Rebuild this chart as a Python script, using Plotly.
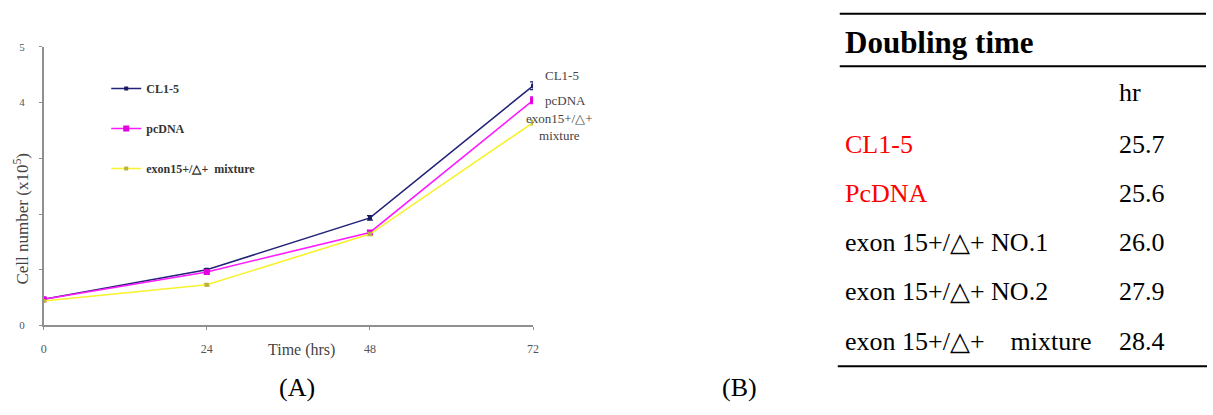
import plotly.graph_objects as go

# ---------------- data ----------------
hours = [0, 24, 48, 72]
series_names = ["CL1-5", "pcDNA", "exon15+/\u25b3+  mixture"]
cl15 = [0.47, 1.00, 1.93, 4.30]
cl15_err = [0.02, 0.02, 0.04, 0.07]
pcdna = [0.47, 0.96, 1.67, 4.04]
pcdna_err = [0.02, 0.03, 0.03, 0.06]
mixture = [0.44, 0.73, 1.64, 3.64]
mixture_err = [0.01, 0.02, 0.03, 0.04]
end_labels = ["CL1-5", "pcDNA", "exon15+/\u25b3+<br>mixture"]

y_tick_vals = [0, 1, 2, 3, 4, 5]
y_tick_text = ["0", " ", " ", " ", "4", "5"]
x_tick_vals = [0, 24, 48, 72]

table_title = "Doubling time"
table_unit = "hr"
table_labels = ["CL1-5", "PcDNA", "exon 15+/\u25b3+ NO.1", "exon 15+/\u25b3+ NO.2",
                "exon 15+/\u25b3+\u00a0\u00a0\u00a0\u00a0mixture"]
table_values = ["25.7", "25.6", "26.0", "27.9", "28.4"]
table_label_colors = ["#ff0000", "#ff0000", "#000000", "#000000", "#000000"]

W, H = 1213, 415
def px(x):
    return x / W
def py(y):
    return 1 - y / H

colors = ["#23237a", "#ff1aff", "#f7f22e"]
marker_colors = ["#1a1a60", "#e000e0", "#b8b040"]
marker_sizes = [4, 6, 4]
values = [cl15, pcdna, mixture]
errors = [cl15_err, pcdna_err, mixture_err]

fig = go.Figure()
for i in range(3):
    fig.add_trace(go.Scatter(
        x=hours, y=values[i], name=series_names[i], mode="lines+markers",
        legendgroup=f"g{i}",
        line=dict(color=colors[i], width=1.6),
        marker=dict(symbol="square", size=marker_sizes[i], color=marker_colors[i]),
        error_y=dict(type="data", array=errors[i], color=marker_colors[i],
                     thickness=1.2, width=3),
    ))

serif = "Liberation Serif, Times New Roman, serif"

def note(x, y, text, size, color="#000000", xanchor="center", **kw):
    return dict(x=px(x), y=py(y), xref="paper", yref="paper", text=text,
                showarrow=False, xanchor=xanchor, yanchor="middle",
                font=dict(family=serif, size=size, color=color), **kw)

annotations = []
# end labels
shifts = [(29, 10), (32, 0), (26, -4)]
for i in range(3):
    annotations.append(dict(
        x=hours[-1], y=values[i][-1], xref="x", yref="y", text=end_labels[i],
        showarrow=False, xanchor="center", yanchor="middle",
        xshift=shifts[i][0], yshift=shifts[i][1],
        font=dict(family=serif, size=13, color="#444444")))

# axis titles
annotations.append(note(18, 219, "Cell number (x10<sup>5</sup>)", 17, "#444444", textangle=-90))
annotations.append(note(301, 354, "Time (hrs)", 16, "#444444"))
# panel labels
annotations.append(note(296, 393, "(A)", 26))
annotations.append(note(742, 393, "(B)", 26))

# table
annotations.append(note(846, 38, f"<b>{table_title}</b>", 31, xanchor="left"))
annotations.append(note(1122, 89, table_unit, 26, xanchor="left"))
row_y = [143, 193, 244, 294, 345]
for lab, val, col, ry in zip(table_labels, table_values, table_label_colors, row_y):
    annotations.append(note(846, ry, lab, 26, col, xanchor="left"))
    annotations.append(note(1122, ry, val, 26, xanchor="left"))

shapes = [
    dict(type="line", xref="paper", yref="paper", x0=px(843), x1=px(1212), y0=py(8), y1=py(8),
         line=dict(color="#000000", width=2)),
    dict(type="line", xref="paper", yref="paper", x0=px(843), x1=px(1212), y0=py(62), y1=py(62),
         line=dict(color="#000000", width=2)),
    dict(type="line", xref="paper", yref="paper", x0=px(841), x1=px(1213), y0=py(371), y1=py(371),
         line=dict(color="#000000", width=2)),
]

fig.update_layout(
    width=W, height=H,
    margin=dict(l=0, r=0, t=0, b=0),
    paper_bgcolor="white", plot_bgcolor="white",
    showlegend=True,
    legend=dict(x=px(104), y=py(70), xanchor="left", yanchor="top",
                bgcolor="rgba(0,0,0,0)", tracegroupgap=21, itemwidth=30,
                traceorder="grouped",
                font=dict(family=serif, size=12, color="#333333", weight="bold")),
    xaxis=dict(domain=[px(41), px(534)], range=[0, 72], tickvals=x_tick_vals,
               showgrid=False, zeroline=False, showline=True, linecolor="#909090", linewidth=1.5,
               ticks="outside", ticklen=3, tickcolor="#909090", ticklabelstandoff=8,
               tickfont=dict(family=serif, size=12, color="#555555")),
    yaxis=dict(domain=[py(329), py(42)], range=[0, 5], tickvals=y_tick_vals, ticktext=y_tick_text,
               showgrid=False, zeroline=False, showline=True, linecolor="#909090", linewidth=1.5,
               ticks="outside", ticklen=3, tickcolor="#909090", ticklabelstandoff=12,
               tickfont=dict(family=serif, size=11, color="#555555")),
    annotations=annotations,
    shapes=shapes,
)

post = ("var s=document.createElement('style');"
        "s.textContent='html,body{margin:0;padding:0;overflow:hidden;}';"
        "document.head.appendChild(s);")
fig.write_html("out.html", config={"displayModeBar": False}, post_script=post)
